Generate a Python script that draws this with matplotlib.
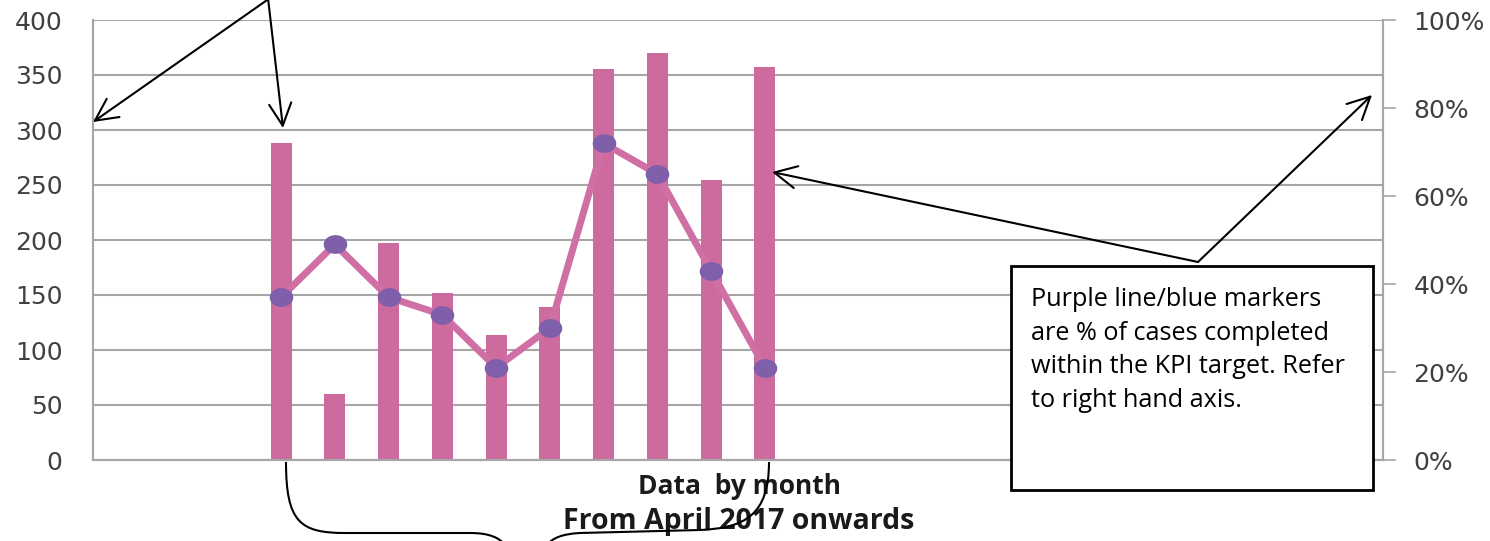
import numpy as np
import matplotlib
matplotlib.use("Agg")
import matplotlib.pyplot as plt
from matplotlib.patches import Rectangle, PathPatch, FancyArrowPatch
from matplotlib.path import Path

# monthly figures, April 2017 onwards
months = ["Apr 17", "May 17", "Jun 17", "Jul 17", "Aug 17",
          "Sep 17", "Oct 17", "Nov 17", "Dec 17", "Jan 18"]
cases = [288, 60, 197, 152, 114, 139, 355, 370, 255, 357]
pct_in_kpi = [0.37, 0.49, 0.37, 0.33, 0.21, 0.30, 0.72, 0.65, 0.43, 0.21]
left_ticks = [0, 50, 100, 150, 200, 250, 300, 350, 400]
right_ticks = [0, 0.2, 0.4, 0.6, 0.8, 1.0]
right_labels = ["0%", "20%", "40%", "60%", "80%", "100%"]

n_slots = 24
first_slot = 3

W, H = 1490, 541
fig = plt.figure(figsize=(W / 100, H / 100), dpi=100)
fig.patch.set_facecolor("white")


def px(x, y):
    return (x / W, 1 - y / H)


ax = fig.add_axes([93 / W, (H - 460) / H, (1383 - 93) / W, 440 / H])
ax2 = ax.twinx()

x = np.arange(first_slot, first_slot + len(months))
bar_col = "#CE6B9E"
grid_col = "#A6A6A6"

ax.bar(x, cases, width=0.39, color=bar_col, zorder=2)
ax.set_xlim(-0.5, n_slots - 0.5)
ax.set_ylim(0, 400)
ax.set_yticks(left_ticks)
ax.set_yticklabels([str(t) for t in left_ticks], fontsize=18, color="#404040")
ax.set_xticks([])
ax.tick_params(axis="y", length=0, pad=22)
ax.grid(axis="y", color=grid_col, linewidth=1.5, zorder=0)
ax.set_axisbelow(True)

# flattened round marker
t = np.linspace(0, 2 * np.pi, 40)
oval = Path(np.column_stack([np.cos(t), 0.78 * np.sin(t)]))

ax2.plot(x, pct_in_kpi, color="#D06FA3", linewidth=5, zorder=3,
         solid_joinstyle="round")
ax2.plot(x, pct_in_kpi, linestyle="none", marker=oval, markersize=16,
         markerfacecolor="#7F5FAA", markeredgecolor="#7F5FAA", zorder=4)
ax2.set_ylim(0, 1)
ax2.set_yticks(right_ticks)
ax2.set_yticklabels(right_labels, fontsize=18, color="#404040")
ax2.tick_params(axis="y", length=9, width=1.2, color=grid_col, pad=13)

for a in (ax, ax2):
    a.spines["top"].set_visible(False)
    for side in ("left", "right", "bottom"):
        a.spines[side].set_color(grid_col)
        a.spines[side].set_linewidth(1.5)

# explanatory box on the right
fig.add_artist(Rectangle(px(1011, 490), 362 / W, 224 / H, transform=fig.transFigure,
                         facecolor="white", edgecolor="black", linewidth=2, zorder=5))
fig.text(*px(1031, 287), "Purple line/blue markers\nare % of cases completed\n"
         "within the KPI target. Refer\nto right hand axis.",
         family="Open Sans", fontsize=18.2, va="top", ha="left",
         linespacing=1.46, zorder=6)

# arrows
arrow = dict(arrowstyle="->,head_length=0.8,head_width=0.4", color="black", lw=1.5,
             shrinkA=0, shrinkB=0)
for start, end in [((270, -2), (93, 122)), ((268, -2), (283, 128)),
                   ((1198, 262), (772, 172)), ((1198, 262), (1372, 95))]:
    fig.add_artist(FancyArrowPatch(px(*start), px(*end), transform=fig.transFigure,
                                   mutation_scale=20, zorder=7, **arrow))

# axis caption
fig.text(*px(740, 486), "Data  by month", family="Open Sans", weight="bold",
         fontsize=19, ha="center", va="center", color="#1a1a1a", zorder=6)
fig.text(*px(739, 521), "From April 2017 onwards", family="Open Sans", weight="bold",
         fontsize=20.5, ha="center", va="center", color="#1a1a1a", zorder=6)


# bracket linking first and last month
def curve(points, codes):
    verts = [px(*p) for p in points]
    fig.add_artist(PathPatch(Path(verts, codes), transform=fig.transFigure,
                             facecolor="none", edgecolor="black", lw=1.5, zorder=7))


C = Path.CURVE4
curve([(286, 462), (286, 522), (300, 533), (345, 533), (470, 533),
       (490, 533), (500, 538), (506, 546)],
      [Path.MOVETO, C, C, C, Path.LINETO, C, C, C])
curve([(769, 462), (769, 515), (745, 528), (700, 530), (580, 533),
       (562, 534), (552, 538), (546, 546)],
      [Path.MOVETO, C, C, C, Path.LINETO, C, C, C])

fig.savefig("out.png", dpi=100)
